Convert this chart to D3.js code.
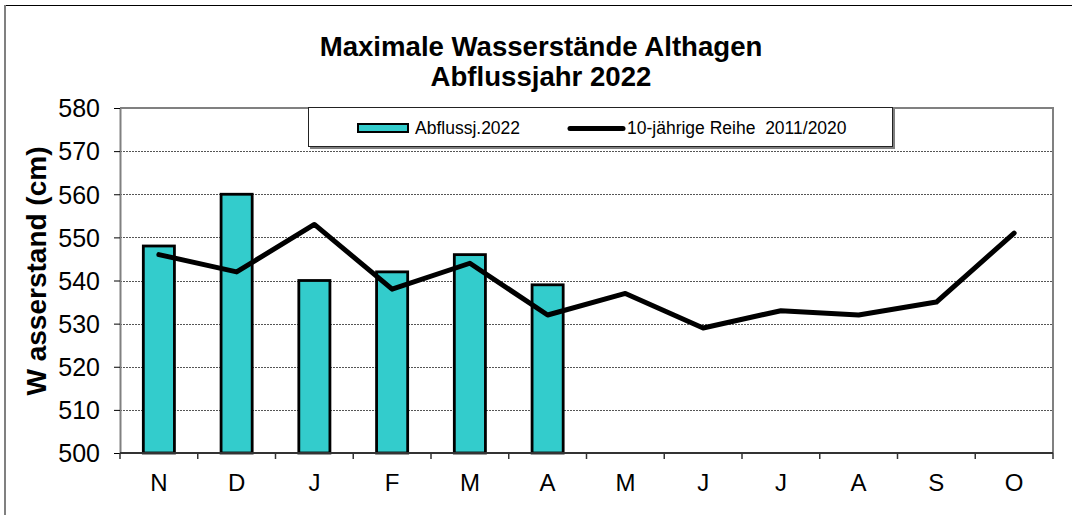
<!DOCTYPE html>
<html><head><meta charset="utf-8">
<script src="https://cdn.jsdelivr.net/npm/d3@7"></script>
<style>body{margin:0;background:#fff}svg{display:block;font-family:Arial,"Liberation Sans",sans-serif}</style>
</head><body><svg id="c" width="1072" height="515"></svg>
<script>
const months = ["N","D","J","F","M","A","M","J","J","A","S","O"];
const barValues = [548,560,540,542,546,539,null,null,null,null,null,null];
const lineValues = [546,542,553,538,544,532,537,529,533,532,535,551];
const yTicks = [500,510,520,530,540,550,560,570,580];
const titleLines = ["Maximale Wasserstände Althagen","Abflussjahr 2022"];
const yTitle = "W asserstand (cm)";
const barLabel = "Abflussj.2022";
const lineLabel = "10-jährige Reihe  2011/2020";

const svg = d3.select("#c");
const L=120, R=1053, T=108, B=453;
const idx = months.map((m,i)=>i);
const x = d3.scaleBand().domain(idx).range([L,R]).paddingInner(0.6).paddingOuter(0.3);
const y = d3.scaleLinear().domain([500,580]).range([B,T]);

// outer frame
svg.append("line").attr("x1",5).attr("x2",1072).attr("y1",5.5).attr("y2",5.5).attr("stroke","#000").attr("stroke-width",1.2);
svg.append("line").attr("x1",5).attr("x2",5).attr("y1",5).attr("y2",515).attr("stroke","#808080").attr("stroke-width",2);

// gridlines
svg.append("g").selectAll("line").data(yTicks.filter(v=>v>500&&v<580)).join("line")
  .attr("x1",L).attr("x2",R).attr("y1",d=>Math.round(y(d))+0.5).attr("y2",d=>Math.round(y(d))+0.5)
  .attr("stroke","#555").attr("stroke-width",1).attr("stroke-dasharray","2,1");

// plot frame top/right
svg.append("path").attr("d",`M${L},${T}H${R}V${B}`).attr("fill","none").attr("stroke","#808080").attr("stroke-width",2);

// bars
svg.append("g").selectAll("rect").data(idx.filter(i=>barValues[i]!=null)).join("rect")
  .attr("x",i=>x(i)).attr("width",x.bandwidth())
  .attr("y",i=>y(barValues[i])).attr("height",i=>B-y(barValues[i]))
  .attr("fill","#33CCCC").attr("stroke","#000").attr("stroke-width",2.8);

// line
const line = d3.line().x(i=>x(i)+x.bandwidth()/2).y(i=>y(lineValues[i]));
svg.append("path").datum(idx).attr("d",line).attr("fill","none").attr("stroke","#000").attr("stroke-width",5).attr("stroke-linejoin","round").attr("stroke-linecap","round");

// y axis
const yAxis = d3.axisLeft(y).tickValues(yTicks).tickSize(6).tickSizeOuter(0).tickPadding(14);
const gy = svg.append("g").attr("transform",`translate(${L},0)`).call(yAxis);
gy.select(".domain").attr("stroke","#808080").attr("stroke-width",2);
gy.selectAll(".tick line").attr("stroke","#000");
gy.selectAll("text").attr("font-size",25).attr("fill","#000").attr("font-family","Arial, 'Liberation Sans', sans-serif").attr("dy","0.35em");

// x axis
const step = x.step();
const boundaries = d3.range(13).map(i=>L+i*step);
const gx = svg.append("g");
gx.append("line").attr("x1",L).attr("x2",R).attr("y1",B).attr("y2",B).attr("stroke","#333").attr("stroke-width",2);
gx.selectAll("line.t").data(boundaries).join("line").attr("class","t")
  .attr("x1",d=>d).attr("x2",d=>d).attr("y1",B).attr("y2",B+6).attr("stroke","#333").attr("stroke-width",1.5);
gx.selectAll("text").data(idx).join("text")
  .attr("x",i=>x(i)+x.bandwidth()/2).attr("y",491).attr("text-anchor","middle")
  .attr("font-size",24).text(i=>months[i]);

// titles
svg.selectAll("text.title").data(titleLines).join("text").attr("class","title")
  .attr("x",541).attr("y",(d,i)=>56+i*30).attr("text-anchor","middle")
  .attr("font-size",27.6).attr("font-weight","bold").text(d=>d);

svg.append("text").attr("transform","translate(46,271) rotate(-90)").attr("text-anchor","middle")
  .attr("font-size",28).attr("font-weight","bold").text(yTitle);

// legend
const lg = svg.append("g");
lg.append("rect").attr("x",310).attr("y",109).attr("width",585).attr("height",40).attr("fill","#808080");
lg.append("rect").attr("x",308.5).attr("y",107.5).attr("width",584).attr("height",39).attr("fill","#fff").attr("stroke","#222").attr("stroke-width",1);
lg.append("rect").attr("x",358).attr("y",124).attr("width",50).attr("height",8).attr("fill","#33CCCC").attr("stroke","#000").attr("stroke-width",2);
lg.append("text").attr("x",415).attr("y",134).attr("font-size",17.5).text(barLabel);
lg.append("line").attr("x1",570).attr("x2",623).attr("y1",128.5).attr("y2",128.5).attr("stroke","#000").attr("stroke-width",5).attr("stroke-linecap","round");
lg.append("text").attr("x",627).attr("y",134).attr("font-size",17.5).attr("xml:space","preserve").style("white-space","pre").text(lineLabel);
</script></body></html>
